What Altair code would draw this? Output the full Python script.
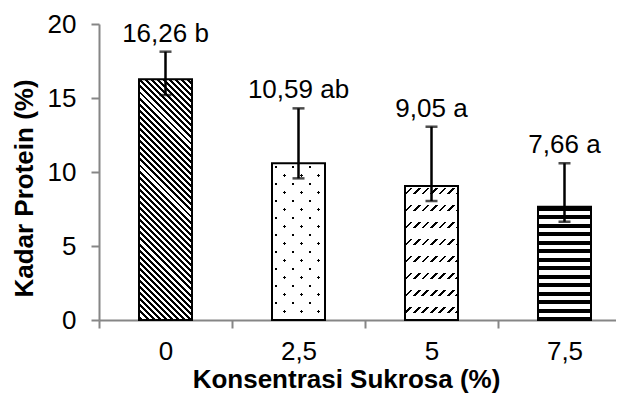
import math
import altair as alt
import pandas as pd

# ---- data ----
categories = ["0", "2,5", "5", "7,5"]
protein = [16.26, 10.59, 9.05, 7.66]
err_upper = [18.13, 14.30, 13.06, 10.59]
err_lower = [15.20, 9.57, 8.04, 6.64]
letters = ["b", "ab", "a", "a"]

labels = [f"{v:.2f}".replace(".", ",") + " " + l for v, l in zip(protein, letters)]
df = pd.DataFrame({
    "cat": categories,
    "val": protein,
    "hi": err_upper,
    "lo": err_lower,
    "lab": labels,
})

# ---- layout / style ----
W, H = 517, 296
YMAX = 20
XRANGE = 532
BAR_W = 53
FONT = "Liberation Sans"
FS = 26
AXIS_GRAY = "#868686"
BLACK = "#000000"
WHITE = "#ffffff"
CLEAR = "rgba(255,255,255,0)"


def stripes(w, h, d, period, dark, origin=(0.0, 0.0), dark_col=BLACK, light_col=WHITE):
    """Linear gradient (bbox units) that renders parallel stripes along pixel direction d."""
    dx, dy = d
    ln = math.hypot(dx, dy)
    nx, ny = dy / ln, -dx / ln
    corners = [(0, 0), (w, 0), (0, h), (w, h)]
    s = [nx * cx + ny * cy for cx, cy in corners]
    imin = min(range(4), key=lambda i: s[i])
    smin, smax = s[imin], max(s)
    L = smax - smin
    ax, ay = nx * w / L, ny * h / L
    a2 = ax * ax + ay * ay
    p1 = (corners[imin][0] / w, corners[imin][1] / h)
    p2 = (p1[0] + ax / a2, p1[1] + ay / a2)
    s0 = nx * origin[0] + ny * origin[1]
    k = math.floor((smin - s0) / period) - 1
    stops = [{"offset": 0, "color": light_col}]
    while True:
        c = s0 + k * period
        a, b = (c - dark / 2 - smin) / L, (c + dark / 2 - smin) / L
        k += 1
        if b < 0:
            continue
        if a > 1:
            break
        a, b = max(a, 0.0), min(b, 1.0)
        stops += [{"offset": round(a, 5), "color": light_col},
                  {"offset": round(a, 5), "color": dark_col},
                  {"offset": round(b, 5), "color": dark_col},
                  {"offset": round(b, 5), "color": light_col}]
    stops.append({"offset": 1, "color": light_col})
    return {"gradient": "linear", "x1": round(p1[0], 5), "y1": round(p1[1], 5),
            "x2": round(p2[0], 5), "y2": round(p2[1], 5), "stops": stops}


hpx = [v * H / YMAX for v in protein]

x_enc = alt.X(
    "cat:N", sort=categories,
    scale=alt.Scale(range=[0, XRANGE], paddingInner=0, paddingOuter=0),
    axis=alt.Axis(
        title="Konsentrasi Sukrosa (%)", labelAngle=0, tickBand="extent",
        domainColor=AXIS_GRAY, domainWidth=2, tickColor=AXIS_GRAY, tickWidth=2, tickSize=8,
        labelFont=FONT, labelFontSize=FS, labelColor=BLACK, labelPadding=10,
        titleFont=FONT, titleFontSize=FS, titleFontWeight="bold", titleColor=BLACK,
        titleX=247, titleY=67, titleAlign="center", titleBaseline="alphabetic",
    ),
)
y_scale = alt.Scale(domain=[0, YMAX], nice=False, zero=True)
y_enc = alt.Y(
    "val:Q", scale=y_scale,
    axis=alt.Axis(
        title="Kadar Protein (%)", values=[0, 5, 10, 15, 20], grid=False,
        domainColor=AXIS_GRAY, domainWidth=2, tickColor=AXIS_GRAY, tickWidth=2, tickSize=8,
        labelFont=FONT, labelFontSize=FS, labelColor=BLACK, labelPadding=15, labelFlush=False,
        titleFont=FONT, titleFontSize=FS, titleFontWeight="bold", titleColor=BLACK,
        titleX=-75, titleY=164, titleAngle=270, titleBaseline="middle", titleAlign="center",
    ),
)

base = alt.Chart(df)


def bar_layer(i, fill):
    return base.transform_filter(alt.datum.cat == categories[i]).mark_bar(
        width=BAR_W, fill=fill, strokeWidth=0
    ).encode(x=x_enc, y=y_enc)


layers = []
# bar 0: wide downward diagonal
layers.append(bar_layer(0, stripes(BAR_W, hpx[0], (1, 1), 4.3, 2.1)))
# bar 1: staggered dots = intersection of two diagonal families
layers.append(bar_layer(1, stripes(BAR_W, hpx[1], (1, 1), 12.02, 1.8, origin=(4, 4))))
layers.append(bar_layer(1, stripes(BAR_W, hpx[1], (-1, 1), 12.02, 1.8, origin=(4, 4),
                                   dark_col=CLEAR, light_col=WHITE)))
# bar 2: dashed upward diagonal
layers.append(bar_layer(2, stripes(BAR_W, hpx[2], (1, -1), 6.0, 1.9)))
layers.append(bar_layer(2, stripes(BAR_W, hpx[2], (1, 0), 17.0, 6.5, origin=(0, 5),
                                   dark_col=CLEAR, light_col=WHITE)))
# bar 3: horizontal stripes
layers.append(bar_layer(3, stripes(BAR_W, hpx[3], (1, 0), 8.5, 4.0, origin=(0, 2))))

border = base.mark_bar(width=BAR_W, fillOpacity=0, stroke=BLACK, strokeWidth=2).encode(
    x=x_enc, y=y_enc)
err = base.mark_rule(color=BLACK, strokeWidth=2.5).encode(
    x=x_enc, y=alt.Y("lo:Q", scale=y_scale), y2="hi:Q")
cap_hi = base.mark_tick(color=BLACK, size=12, thickness=2.5).encode(
    x=x_enc, y=alt.Y("hi:Q", scale=y_scale))
cap_lo = base.mark_tick(color=BLACK, size=12, thickness=2.5).encode(
    x=x_enc, y=alt.Y("lo:Q", scale=y_scale))
text = base.mark_text(font=FONT, fontSize=FS, color=BLACK, baseline="alphabetic",
                      align="center", dy=-10).encode(
    x=x_enc, y=alt.Y("hi:Q", scale=y_scale), text="lab:N")

chart = alt.layer(*layers, border, err, cap_hi, cap_lo, text).properties(
    width=W, height=H,
    autosize=alt.AutoSizeParams(type="none"),
    padding={"left": 91, "top": 16, "right": 0, "bottom": 74},
).configure_view(strokeWidth=0)

chart.save("out.html", embed_options={"renderer": "svg", "actions": False})
